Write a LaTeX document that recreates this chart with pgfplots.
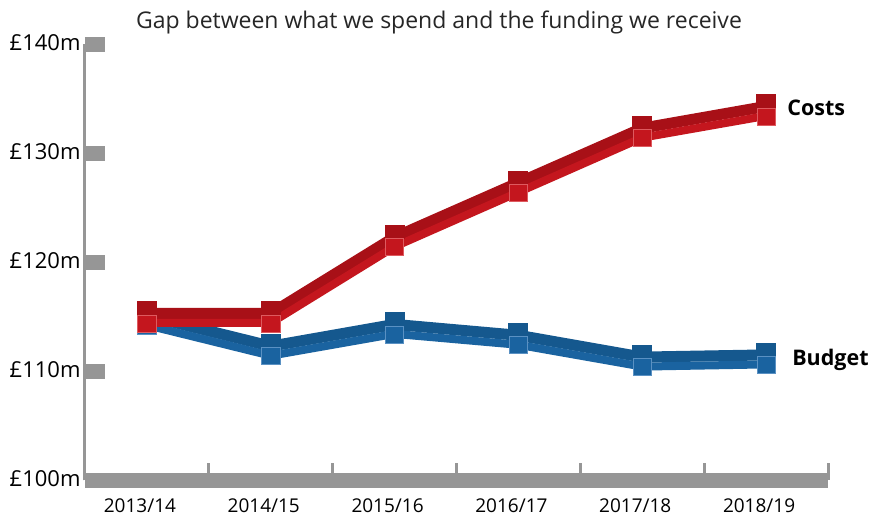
\documentclass[border=0pt]{standalone}
\usepackage{fontspec}
\setmainfont{Open Sans}
\usepackage{pgfplots}
\pgfplotsset{compat=1.18}
\definecolor{redDark}{RGB}{168,16,23}
\definecolor{redFront}{RGB}{196,22,30}
\definecolor{redEdge}{RGB}{222,90,95}
\definecolor{blueDark}{RGB}{21,88,142}
\definecolor{blueFront}{RGB}{26,99,160}
\definecolor{blueEdge}{RGB}{90,145,195}
\definecolor{axgray}{RGB}{150,150,150}
\begin{document}
\begin{tikzpicture}
\useasboundingbox (-85pt,-35.5pt) rectangle (793pt,480.5pt);
\begin{axis}[
  scale only axis, width=743pt, height=436pt,
  xmin=-0.5, xmax=5.5, ymin=100, ymax=140,
  clip=false,
  axis x line*=bottom, axis y line*=left,
  x axis line style={line width=15pt, draw=axgray},
  y axis line style={line width=3pt, draw=axgray},
  xtick={0,...,5},
  xticklabels={2013/14,2014/15,2015/16,2016/17,2017/18,2018/19},
  minor xtick={-0.5,0.5,...,5.5},
  ytick={100,110,...,140},
  yticklabels={£100m,£110m,£120m,£130m,£140m},
  tick align=inside,
  major tick length=20pt, minor tick length=17pt,
  every major x tick/.style={draw=none},
  every minor x tick/.style={line width=3pt, draw=axgray},
  every major y tick/.style={line width=15pt, draw=axgray},
  xticklabel style={font=\fontsize{19}{22}\selectfont, yshift=-15pt, xshift=-7pt},
  yticklabel style={font=\fontsize{22}{26}\selectfont, xshift=-1pt, yshift=2pt},
]
% Budget
\addplot[draw=blueDark, line width=11pt, yshift=3.5pt, line join=miter] coordinates {(0,114.8) (1,112) (2,114) (3,113) (4,111) (5,111.2)};
\addplot[draw=blueFront, line width=8pt, yshift=-6pt, line join=miter] coordinates {(0,114.8) (1,112) (2,114) (3,113) (4,111) (5,111.2)};
\addplot[only marks, mark=square*, mark size=9.5pt, yshift=8.5pt, mark options={fill=blueDark, draw=blueDark, line width=0pt, yscale=0.684}] coordinates {(0,114.8) (1,112) (2,114) (3,113) (4,111) (5,111.2)};
\addplot[only marks, mark=square*, mark size=9.1pt, yshift=-6.5pt, mark options={fill=blueFront, draw=blueEdge, line width=0.7pt, yscale=0.93}] coordinates {(0,114.8) (1,112) (2,114) (3,113) (4,111) (5,111.2)};
% Costs
\addplot[draw=redDark, line width=11pt, yshift=3.5pt, line join=miter] coordinates {(0,115) (1,115) (2,122) (3,127) (4,132) (5,134)};
\addplot[draw=redFront, line width=8pt, yshift=-6pt, line join=miter] coordinates {(0,115) (1,115) (2,122) (3,127) (4,132) (5,134)};
\addplot[only marks, mark=square*, mark size=9.5pt, yshift=8.5pt, mark options={fill=redDark, draw=redDark, line width=0pt, yscale=0.684}] coordinates {(0,115) (1,115) (2,122) (3,127) (4,132) (5,134)};
\addplot[only marks, mark=square*, mark size=9.1pt, yshift=-6.5pt, mark options={fill=redFront, draw=redEdge, line width=0.7pt, yscale=0.93}] coordinates {(0,115) (1,115) (2,122) (3,127) (4,132) (5,134)};
\node[anchor=west, font=\fontsize{21.5}{24}\selectfont\bfseries, inner sep=0pt] at (axis cs:5.17,134.2) {Costs};
\node[anchor=west, font=\fontsize{21.5}{24}\selectfont\bfseries, inner sep=0pt] at (axis cs:5.21,111.05) {Budget};
\node[font=\fontsize{23}{26}\selectfont, text=black!85, inner sep=0pt] at (rel axis cs:0.4764,1.051) {Gap between what we spend and the funding we receive};
\end{axis}
\end{tikzpicture}
\end{document}
